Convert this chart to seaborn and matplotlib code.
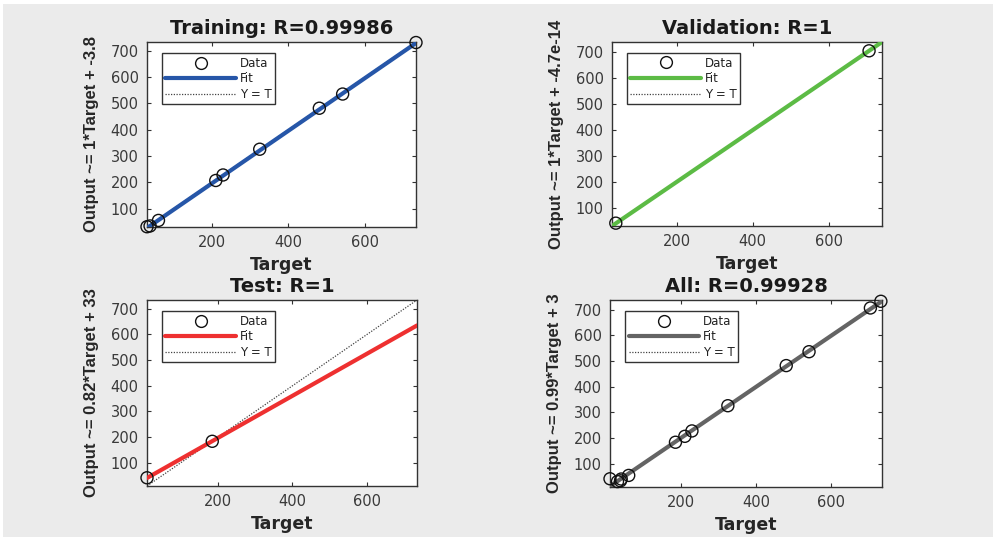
import numpy as np
import matplotlib
matplotlib.use("Agg")
import matplotlib.pyplot as plt
import seaborn as sns
from matplotlib.lines import Line2D
from matplotlib.patches import Rectangle

# ---------------- data ----------------
train_target = [30, 38, 60, 210, 229, 325, 481, 542, 734]
train_output = [31, 34, 55, 207, 228, 326, 482, 536, 732]
val_target = [40, 706]
val_output = [41, 706]
test_target = [10, 185]
test_output = [42, 184]
all_target = train_target + val_target + test_target
all_output = train_output + val_output + test_output

panel_titles = ["Training: R=0.99986", "Validation: R=1", "Test: R=1", "All: R=0.99928"]
panel_ylabels = ["Output ~= 1*Target + -3.8", "Output ~= 1*Target + -4.7e-14",
                 "Output ~= 0.82*Target + 33", "Output ~= 0.99*Target + 3"]
fit_slopes = [1.0, 1.0, 0.82, 0.99]
fit_intercepts = [-3.8, -4.7e-14, 33.0, 3.0]
axis_limits = [(30, 734), (30, 740), (10, 734), (10, 737)]
x_ticks = [200, 400, 600]
y_ticks = [100, 200, 300, 400, 500, 600, 700]
legend_labels = ["Data", "Fit", "Y = T"]
fit_colors = ["#2656a8", "#5cbb45", "#ee3030", "#646464"]

targets = [train_target, val_target, test_target, all_target]
outputs = [train_output, val_output, test_output, all_output]

# ---------------- style ----------------
sns.set_style("ticks")
plt.rcParams["font.family"] = ["DejaVu Sans"]

W, H = 993, 540
fig = plt.figure(figsize=(W / 100, H / 100), dpi=100, facecolor="white")
fig.patches.append(Rectangle((3 / W, 3 / H), 1 - 3 / W, 1 - 7 / H, transform=fig.transFigure,
                             facecolor="#ebebeb", edgecolor="none", zorder=-10))

positions = [
    [147 / W, (H - 227) / H, 269 / W, 185 / H],
    [612 / W, (H - 226) / H, 270 / W, 184 / H],
    [147 / W, (H - 486) / H, 270 / W, 186 / H],
    [610 / W, (H - 487) / H, 272 / W, 187 / H],
]

frame_col = "#333333"
for i in range(4):
    ax = fig.add_axes(positions[i])
    ax.set_facecolor("white")
    lo, hi = axis_limits[i]
    xs = np.array([lo, hi], dtype=float)
    # Y = T line
    sns.lineplot(x=xs, y=xs, ax=ax, color="#444444", lw=0.9, linestyle=(0, (1, 1.2)),
                 zorder=2, legend=False)
    # Fit line
    sns.lineplot(x=xs, y=fit_slopes[i] * xs + fit_intercepts[i], ax=ax,
                 color=fit_colors[i], lw=3, zorder=3, legend=False)
    # Data
    sns.scatterplot(x=targets[i], y=outputs[i], ax=ax, marker="o", s=75,
                    facecolor="none", edgecolor="#111111", linewidth=1.0,
                    zorder=4, clip_on=False, legend=False)

    ax.set_xlim(lo, hi)
    ax.set_ylim(lo, hi)
    ax.set_xticks(x_ticks)
    ax.set_yticks(y_ticks)
    ax.tick_params(direction="in", length=3, width=0.8, colors=frame_col,
                   top=True, right=True, labelsize=10.5, labelcolor="#3a3a3a", pad=6)
    for sp in ax.spines.values():
        sp.set_visible(True)
        sp.set_color(frame_col)
        sp.set_linewidth(1.0)

    ax.set_title(panel_titles[i], fontsize=14, fontweight="bold", color="#1a1a1a", pad=6)
    ax.set_xlabel("Target", fontsize=12.5, fontweight="bold", color="#262626", labelpad=4)
    ax.set_ylabel(panel_ylabels[i], fontsize=12, fontweight="bold", color="#262626",
                  family=["Liberation Sans", "DejaVu Sans"], labelpad=8)

    handles = [
        Line2D([], [], marker="o", linestyle="none", markerfacecolor="none",
               markeredgecolor="#111111", markersize=8.5, markeredgewidth=1.0),
        Line2D([], [], color=fit_colors[i], lw=3),
        Line2D([], [], color="#444444", lw=0.9, linestyle=(0, (1, 1.2))),
    ]
    leg = ax.legend(handles, legend_labels, loc="upper left", bbox_to_anchor=(0.055, 0.94),
                    borderaxespad=0, fontsize=8.5, handlelength=6.0, handletextpad=0.3,
                    labelspacing=0.22, borderpad=0.3, fancybox=False, framealpha=1,
                    edgecolor="#333333", facecolor="white")
    leg.get_frame().set_linewidth(1.0)
    for t in leg.get_texts():
        t.set_color("#222222")

fig.savefig("out.png", dpi=100, facecolor=fig.get_facecolor())
